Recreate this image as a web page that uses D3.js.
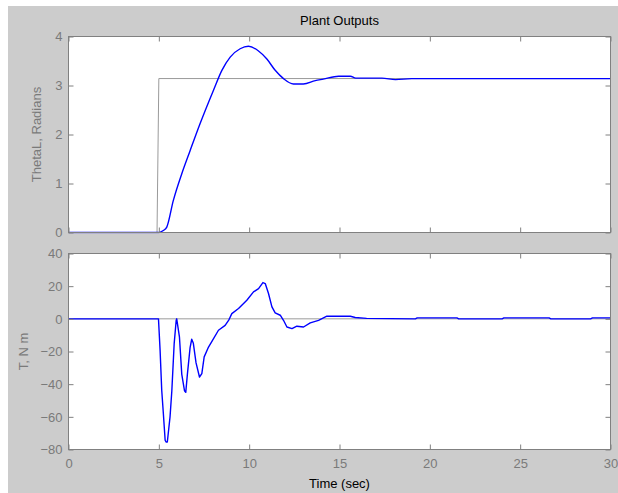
<!DOCTYPE html>
<html>
<head>
<meta charset="utf-8">
<script src="https://cdn.jsdelivr.net/npm/d3@7"></script>
<style>
  html, body { margin: 0; padding: 0; background: #ffffff; }
  svg { display: block; }
  text { font-family: "Liberation Sans", Arial, sans-serif; }
</style>
</head>
<body>
<svg id="chart" width="618" height="493"></svg>
<script>
// ---- data ----
const xTicks = [0, 5, 10, 15, 20, 25, 30];
const thetaTicks = [0, 1, 2, 3, 4];
const torqueTicks = [-80, -60, -40, -20, 0, 20, 40];

// reference step (rad)
const thetaRef = [[0, 0], [4.9, 0], [5.0, 3.1416], [30, 3.1416]];

// ThetaL response (time, rad)
const thetaL = [
  [0, 0], [5.0, 0], [5.25, 0.04], [5.44, 0.11], [5.8, 0.65], [6.27, 1.2],
  [6.73, 1.67], [7.28, 2.22], [8.02, 2.9], [8.49, 3.31], [8.95, 3.58],
  [9.5, 3.75], [9.96, 3.8], [10.5, 3.71], [10.98, 3.54], [11.44, 3.31],
  [11.9, 3.14], [12.45, 3.03], [13.0, 3.03], [13.66, 3.10], [14.1, 3.13],
  [14.95, 3.19], [15.6, 3.19], [15.9, 3.15], [17.35, 3.15], [18.1, 3.12],
  [19.0, 3.14], [30, 3.14]
];

// zero reference for torque
const torqueRef = [[0, 0], [30, 0]];

// Torque (time, N m)
const torque = [
  [0, 0], [4.98, 0], [5.07, -19.3], [5.16, -43.7], [5.25, -58], [5.35, -74.3],
  [5.40, -75.4], [5.47, -75.4], [5.62, -60], [5.72, -44], [5.85, -15],
  [5.96, -1], [5.99, 0], [6.14, -11], [6.27, -34], [6.42, -44], [6.49, -45],
  [6.58, -34], [6.73, -17.6], [6.82, -12.5], [6.91, -15], [7.06, -27],
  [7.25, -35.6], [7.38, -33.5], [7.51, -23.3], [7.75, -17.3], [7.93, -14],
  [8.30, -7], [8.67, -4], [8.86, -1], [9.04, 3.2], [9.41, 6.3], [9.87, 11.4],
  [10.24, 16.5], [10.52, 18.5], [10.76, 22.2], [10.89, 21.6], [11.07, 15.5],
  [11.26, 7.3], [11.44, 3.6], [11.72, 2.2], [11.90, -0.9], [12.09, -5],
  [12.37, -6], [12.64, -4.5], [13.01, -5], [13.38, -2.5], [13.84, -0.9],
  [14.30, 1.6], [15.60, 1.6], [15.87, 0.8], [16.50, 0.3], [19.20, 0],
  [19.30, 0.6], [21.50, 0.6], [21.60, 0], [24.00, 0], [24.10, 0.6],
  [26.60, 0.6], [26.70, 0], [28.90, 0], [29.00, 0.6], [30.00, 0.6]
];

// ---- layout ----
const svg = d3.select("#chart");
const W = 618, H = 493;
const left = 68.5, right = 610.5;
const panels = [
  { top: 36.5, bottom: 232.5, domain: [0, 4], ticks: thetaTicks, label: "ThetaL, Radians",
    labelX: 38, ref: thetaRef, data: thetaL, curve: d3.curveMonotoneX, xLabels: false },
  { top: 253.5, bottom: 449.5, domain: [-80, 40], ticks: torqueTicks, label: "T, N m",
    labelX: 25, ref: torqueRef, data: torque, curve: d3.curveLinear, xLabels: true }
];

svg.append("rect").attr("x", 8).attr("y", 6).attr("width", W - 8).attr("height", H - 6)
  .attr("fill", "#cccccc");

const axisColor = "#808080";
const x = d3.scaleLinear().domain([0, 30]).range([left, right]);

panels.forEach((p, i) => {
  const y = d3.scaleLinear().domain(p.domain).range([p.bottom, p.top]);
  const g = svg.append("g");

  g.append("rect").attr("x", left).attr("y", p.top)
    .attr("width", right - left).attr("height", p.bottom - p.top)
    .attr("fill", "#ffffff");

  const clipId = "clip" + i;
  svg.append("clipPath").attr("id", clipId).append("rect")
    .attr("x", left).attr("y", p.top - 1).attr("width", right - left).attr("height", p.bottom - p.top + 2);

  const line = d3.line().x(d => x(d[0])).y(d => y(d[1]));

  g.append("path").datum(p.ref).attr("d", line)
    .attr("fill", "none").attr("stroke", "#9a9a9a").attr("stroke-width", 1)
    .attr("clip-path", `url(#${clipId})`);

  g.append("path").datum(p.data).attr("d", line.curve(p.curve))
    .attr("fill", "none").attr("stroke", "#0000ff").attr("stroke-width", 1.4)
    .attr("stroke-linejoin", "round")
    .attr("clip-path", `url(#${clipId})`);

  // axes with inward ticks
  const axB = d3.axisBottom(x).tickValues(xTicks).tickSize(-5).tickPadding(9)
    .tickFormat(p.xLabels ? d3.format("d") : () => "");
  const axT = d3.axisTop(x).tickValues(xTicks).tickSize(-5).tickFormat(() => "");
  const axL = d3.axisLeft(y).tickValues(p.ticks).tickSize(-5).tickPadding(6).tickFormat(d3.format("d"));
  const axR = d3.axisRight(y).tickValues(p.ticks).tickSize(-5).tickFormat(() => "");

  const styleAxis = sel => {
    sel.select(".domain").remove();
    sel.selectAll("line").attr("stroke", axisColor);
    sel.selectAll("text").attr("fill", "#7a7a7a").style("font-size", "13px")
      .style("font-family", '"Liberation Sans", Arial, sans-serif');
  };
  g.append("g").attr("transform", `translate(0,${p.bottom})`).call(axB).call(styleAxis);
  g.append("g").attr("transform", `translate(0,${p.top})`).call(axT).call(styleAxis);
  g.append("g").attr("transform", `translate(${left},0)`).call(axL).call(styleAxis);
  g.append("g").attr("transform", `translate(${right},0)`).call(axR).call(styleAxis);

  g.append("rect").attr("x", left).attr("y", p.top)
    .attr("width", right - left).attr("height", p.bottom - p.top)
    .attr("fill", "none").attr("stroke", axisColor).attr("stroke-width", 1);

  g.append("text")
    .attr("transform", `translate(${p.labelX},${(p.top + p.bottom) / 2}) rotate(-90)`)
    .attr("text-anchor", "middle").attr("dominant-baseline", "middle")
    .attr("fill", "#7a7a7a").style("font-size", "13px")
    .text(p.label);
});

svg.append("text").attr("x", (left + right) / 2).attr("y", 25)
  .attr("text-anchor", "middle").attr("fill", "#000000").style("font-size", "13px")
  .text("Plant Outputs");

svg.append("text").attr("x", (left + right) / 2).attr("y", 488)
  .attr("text-anchor", "middle").attr("fill", "#000000").style("font-size", "13px")
  .text("Time (sec)");
</script>
</body>
</html>
